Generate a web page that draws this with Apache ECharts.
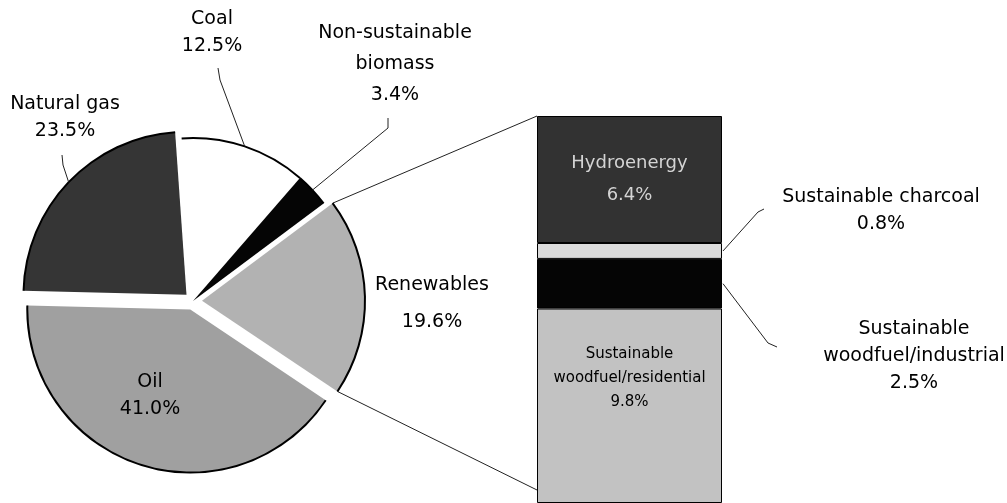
<!DOCTYPE html>
<html>
<head>
<meta charset="utf-8">
<script src="https://cdn.jsdelivr.net/npm/echarts@6/dist/echarts.min.js"></script>
<style>
  html, body { margin: 0; padding: 0; background: #fff; }
  #chart { width: 1007px; height: 503px; }
</style>
</head>
<body>
<div id="chart"></div>
<script>
// primary energy shares (%), clockwise from the top
const pieNames = ['Coal', 'Non-sustainable\nbiomass', 'Renewables', 'Oil', 'Natural gas'];
const pieValues = [12.5, 3.4, 19.6, 41.0, 23.5];
const pieExploded = [false, false, true, true, true];

// breakdown of renewables (%), top to bottom of the bar
const barNames = ['Hydroenergy', 'Sustainable charcoal', 'Sustainable\nwoodfuel/industrial', 'Sustainable\nwoodfuel/residential'];
const barValues = [6.4, 0.8, 2.5, 9.8];

// layout
const CX = 193, CY = 301, R = 163, START = 94, OFFSET = 9;
const BAR_LEFT = 537, BAR_W = 185, BAR_TOP = 116;
const FONT = 'DejaVu Sans';

const pieColors = ['#ffffff', '#050505', '#b2b2b2', '#a0a0a0', '#353535'];
const barColors = ['#323232', '#dadada', '#050505', '#c2c2c2'];

const pieTotal = pieValues.reduce((a, b) => a + b, 0);
const barTotal = barValues.reduce((a, b) => a + b, 0);

// point on slice i: frac along its arc, at radius r, with explode offset
function slicePoint(i, frac, r) {
  let cum = 0;
  for (let k = 0; k < i; k++) cum += pieValues[k];
  const deg = (90 - START) + 360 * (cum + frac * pieValues[i]) / pieTotal;
  const midDeg = (90 - START) + 360 * (cum + 0.5 * pieValues[i]) / pieTotal;
  const a = deg * Math.PI / 180, m = midDeg * Math.PI / 180;
  const off = pieExploded[i] ? OFFSET : 0;
  return [CX + off * Math.sin(m) + r * Math.sin(a), CY - off * Math.cos(m) - r * Math.cos(a)];
}

// middle of bar segment i, in axis value (stack builds from the bottom)
function barMid(i) {
  let below = 0;
  for (let k = i + 1; k < barValues.length; k++) below += barValues[k];
  return below + barValues[i] / 2;
}

// hand-placed label spots, like the original figure
const pieLabelSpots = [
  { x: 212, y: 33, line: [[220, 80], [218, 68]] },
  { x: 395, y: 64, line: [[388, 128], [388, 118]] },
  { x: 432, y: 304 },
  { x: 150, y: 396 },
  { x: 65, y: 118, line: [[63, 165], [62, 155]] }
];
const barLabelSpots = {
  1: { x: 881, y: 211, line: [[758, 212], [764, 209]] },
  2: { x: 914, y: 356, line: [[768, 343], [777, 347]] }
};

const chart = echarts.init(document.getElementById('chart'));

const barSeries = barNames.map((n, i) => ({
  name: n,
  type: 'bar',
  stack: 'renew',
  barWidth: '100%',
  itemStyle: { color: barColors[i], borderColor: '#000', borderWidth: 1 },
  label: {
    show: true,
    position: i === 3 ? 'insideTop' : (i === 0 ? 'inside' : 'right'),
    distance: i === 3 ? 34 : 5,
    formatter: p => p.seriesName + '\n' + p.value.toFixed(1) + '%',
    fontFamily: FONT,
    fontSize: i === 3 ? 15 : (i === 0 ? 18 : 19),
    lineHeight: i === 3 ? 24 : (i === 0 ? 32 : 27),
    color: i === 0 ? '#d4d4d4' : '#000',
    overflow: 'none',
    align: 'center'
  },
  labelLayout: (i === 1 || i === 2) ? function () {
    const s = barLabelSpots[i];
    return { x: s.x, y: s.y, align: 'center', verticalAlign: 'middle' };
  } : null,
  data: [barValues[i]]
})).reverse();

const pieBase = {
  type: 'pie',
  center: [CX, CY],
  startAngle: START,
  clockwise: true,
  silent: true,
  avoidLabelOverlap: false
};

chart.setOption({
  animation: false,
  backgroundColor: '#fff',
  grid: { left: BAR_LEFT, width: BAR_W, top: BAR_TOP, bottom: 0 },
  xAxis: { type: 'category', data: ['Renewables'], show: false },
  yAxis: { type: 'value', min: 0, max: barTotal, show: false },
  series: [
    Object.assign({}, pieBase, {
      // the slices, three of them pulled out
      radius: R,
      selectedMode: 'multiple',
      selectedOffset: OFFSET,
      label: { show: false },
      labelLine: { show: false },
      select: { itemStyle: { borderWidth: 0 } },
      data: pieNames.map((n, i) => ({
        name: n, value: pieValues[i], selected: pieExploded[i],
        itemStyle: { color: pieColors[i] }
      }))
    }),
    Object.assign({}, pieBase, {
      // black rim on the outer arcs only
      radius: [R - 1, R + 1],
      selectedMode: 'multiple',
      selectedOffset: OFFSET,
      label: { show: false },
      labelLine: { show: false },
      itemStyle: { color: '#000' },
      select: { itemStyle: { color: '#000', borderWidth: 0 } },
      data: pieNames.map((n, i) => ({ name: n, value: pieValues[i], selected: pieExploded[i] }))
    }),
    Object.assign({}, pieBase, {
      // labels only (unselected, so labels are not shifted)
      z: 5,
      radius: R,
      itemStyle: { color: 'rgba(0,0,0,0)' },
      label: {
        position: 'outside',
        formatter: p => p.name + '\n' + p.value.toFixed(1) + '%',
        fontFamily: FONT,
        fontSize: 19,
        color: '#000',
        overflow: 'none',
        align: 'center'
      },
      labelLine: { lineStyle: { color: '#222', width: 1 } },
      labelLayout: function (p) {
        const s = pieLabelSpots[p.dataIndex];
        const out = { x: s.x, y: s.y, align: 'center', verticalAlign: 'middle' };
        if (s.line) out.labelLinePoints = [slicePoint(p.dataIndex, 0.5, R), s.line[0], s.line[1]];
        return out;
      },
      data: pieNames.map((n, i) => ({
        name: n,
        value: pieValues[i],
        label: { color: '#000', lineHeight: i === 2 ? 37 : (i === 1 ? 31 : 27) },
        labelLine: { show: !!pieLabelSpots[i].line }
      }))
    })
  ].concat(barSeries)
});

// connector lines from the renewables slice to the bar, and bar leader lines
const barTopY = chart.convertToPixel({ yAxisIndex: 0 }, barTotal);
const barBotY = chart.convertToPixel({ yAxisIndex: 0 }, 0);
const pTop = slicePoint(2, 0, R);
const pBot = slicePoint(2, 1, R);
const lineStyle = { stroke: '#222', lineWidth: 1, fill: null };
const graphics = [
  { type: 'line', shape: { x1: pTop[0], y1: pTop[1], x2: BAR_LEFT, y2: barTopY }, style: lineStyle },
  { type: 'line', shape: { x1: pBot[0], y1: pBot[1], x2: BAR_LEFT, y2: barBotY - 13 }, style: lineStyle }
];
Object.keys(barLabelSpots).forEach(k => {
  const s = barLabelSpots[k];
  const y0 = chart.convertToPixel({ yAxisIndex: 0 }, barMid(+k));
  graphics.push({
    type: 'polyline',
    shape: { points: [[BAR_LEFT + BAR_W + 1, y0], s.line[0], s.line[1]] },
    style: lineStyle
  });
});
chart.setOption({ graphic: graphics });
</script>
</body>
</html>
